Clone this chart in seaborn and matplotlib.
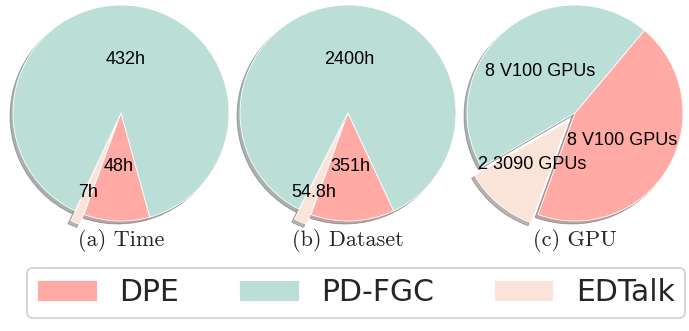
import numpy as np
import matplotlib
matplotlib.use("Agg")
import matplotlib.pyplot as plt
import seaborn as sns

sns.set_style("white")
plt.rcParams['font.family'] = ['DejaVu Sans']

methods = ["DPE", "PD-FGC", "EDTalk"]
colors = ["#FFAAA5", "#BBDED6", "#FAE3D9"]

time_vals = [48, 432, 7]
time_labels = ["48h", "432h", "7h"]
data_vals = [351, 2400, 54.8]
data_labels = ["351h", "2400h", "54.8h"]
gpu_vals = [8, 8, 2]
gpu_labels = ["8 V100 GPUs", "8 V100 GPUs", "2 3090 GPUs"]
subtitles = ["(a) Time", "(b) Dataset", "(c) GPU"]

W, H = 689, 331
fig = plt.figure(figsize=(W / 100, H / 100), dpi=100)
palette = sns.color_palette(colors)

centers_px = [121, 348, 575]
cy_px = 113
R = 108
size = 2.5 * R

panels = [(time_vals, time_labels, 0.7), (data_vals, data_labels, 0.7), (gpu_vals, gpu_labels, 0.52)]
wedges_first = None
for i, (vals, labs, small_r) in enumerate(panels):
    cx = centers_px[i]
    ax = fig.add_axes([(cx - size / 2) / W, 1 - (cy_px + size / 2) / H, size / W, size / H])
    wedges, texts, autotexts = ax.pie(
        vals, colors=palette, explode=[0, 0, 0.1], startangle=250,
        shadow={'ox': -0.02, 'oy': -0.02, 'shade': 0.55},
        autopct='%1.0f', pctdistance=0.5,
        textprops=dict(fontsize=13, color='black', family='Liberation Sans'),
        wedgeprops=dict(edgecolor='white', linewidth=0.6))
    for j, t in enumerate(autotexts):
        t.set_text(labs[j])
    # push small slice label further out along its wedge
    w = wedges[2]
    mid = np.deg2rad((w.theta1 + w.theta2) / 2)
    cxw, cyw = w.center
    autotexts[2].set_position((cxw + small_r * np.cos(mid), cyw + small_r * np.sin(mid)))
    ax.set_xlim(-1.25, 1.25)
    ax.set_ylim(-1.25, 1.25)
    ax.set_aspect('equal')
    fig.text(cx / W, 1 - 241 / H, subtitles[i], ha='center', va='center',
             fontsize=16, family='cmr10')
    if wedges_first is None:
        wedges_first = wedges

leg = fig.legend(wedges_first, methods, ncol=3, loc='lower center',
                 bbox_to_anchor=(356 / W, -0.005), fontsize=21.5,
                 frameon=True, handlelength=2.0, handleheight=0.7,
                 handletextpad=0.75, columnspacing=2.0, borderpad=0.35)
leg.get_frame().set_edgecolor('#cccccc')
leg.get_frame().set_linewidth(1.5)

fig.savefig("out.png", dpi=100)
